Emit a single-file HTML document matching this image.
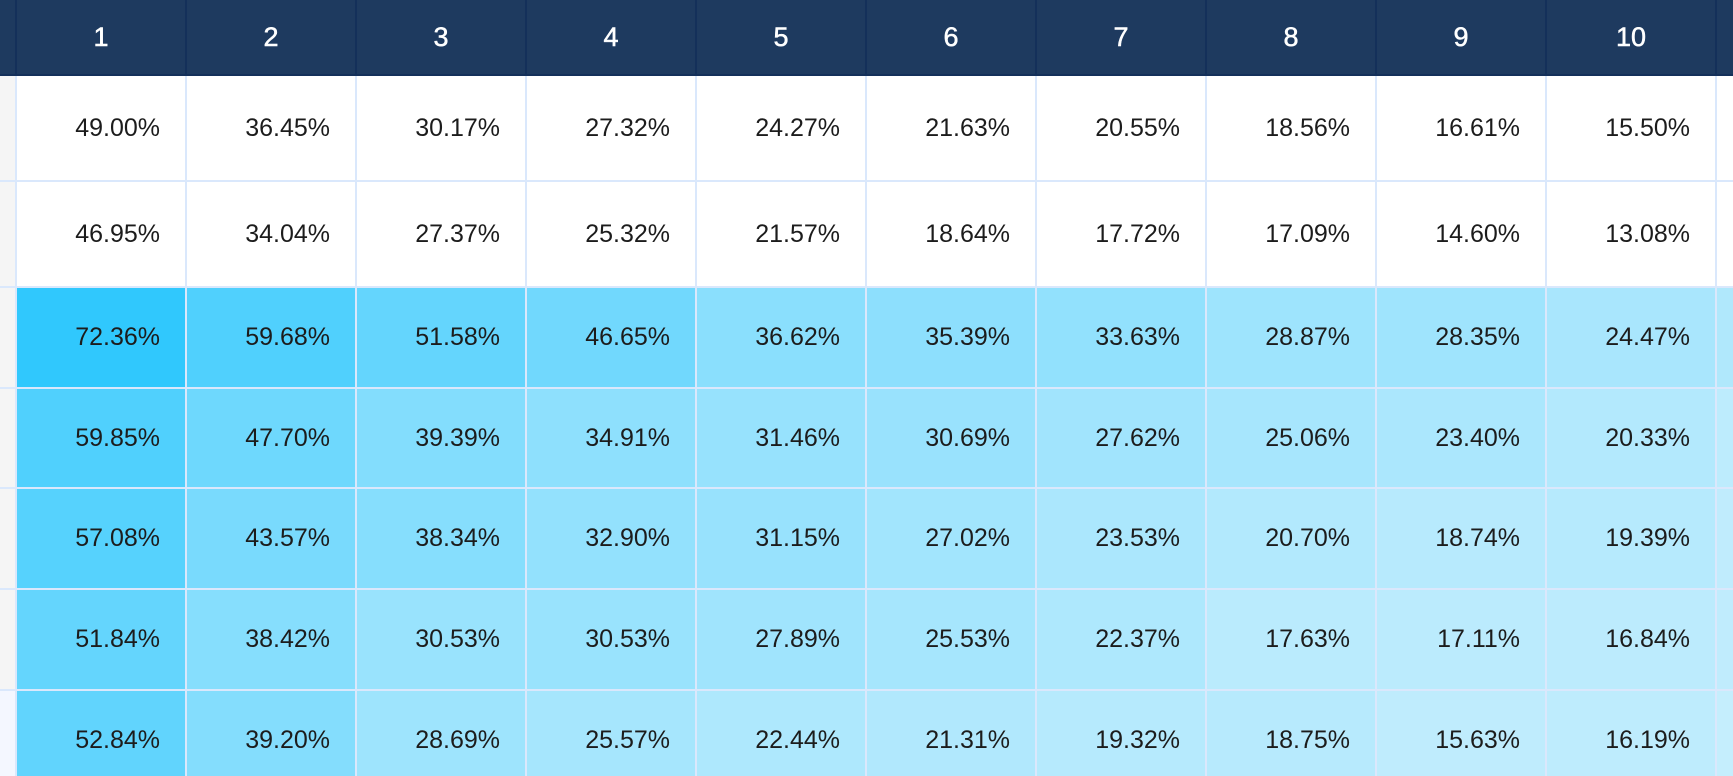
<!DOCTYPE html>
<html><head><meta charset="utf-8"><style>
html,body{margin:0;padding:0;width:1733px;height:776px;overflow:hidden;}
body{position:relative;background:#dae8fc;font-family:"Liberation Sans",Arial,sans-serif;}
.h{position:absolute;top:0;left:0;width:1733px;height:74px;background:#1e3a5f;}
.hb{position:absolute;top:74px;left:0;width:1733px;height:2px;background:#14305a;}
.hs{position:absolute;top:0;width:2px;height:74px;background:#14305a;}
.ht{position:absolute;top:0;height:74px;width:168px;color:#fff;font-size:27px;-webkit-text-stroke:0.5px #fff;display:flex;align-items:center;justify-content:center;}
.c{position:absolute;width:168px;display:flex;align-items:center;justify-content:flex-end;box-sizing:border-box;padding-right:25px;font-size:25px;color:#1c1c1c;}
.l{position:absolute;left:0;width:15px;background:#f5f5f5;}
.p{position:absolute;left:1717px;width:16px;}
</style></head><body>
<div class="h"></div>
<div class="hb"></div>
<div class="hs" style="left:15px"></div><div class="hs" style="left:185px"></div><div class="hs" style="left:355px"></div><div class="hs" style="left:525px"></div><div class="hs" style="left:695px"></div><div class="hs" style="left:865px"></div><div class="hs" style="left:1035px"></div><div class="hs" style="left:1205px"></div><div class="hs" style="left:1375px"></div><div class="hs" style="left:1545px"></div><div class="hs" style="left:1715px"></div>
<div class="ht" style="left:17px">1</div><div class="ht" style="left:187px">2</div><div class="ht" style="left:357px">3</div><div class="ht" style="left:527px">4</div><div class="ht" style="left:697px">5</div><div class="ht" style="left:867px">6</div><div class="ht" style="left:1037px">7</div><div class="ht" style="left:1207px">8</div><div class="ht" style="left:1377px">9</div><div class="ht" style="left:1547px">10</div>

<!-- left strip -->
<div class="l" style="top:76px;height:104px"></div>
<div class="l" style="top:182px;height:104px"></div>
<div class="l" style="top:288px;height:99px"></div>
<div class="l" style="top:389px;height:98px"></div>
<div class="l" style="top:489px;height:99px"></div>
<div class="l" style="top:590px;height:99px"></div>
<div class="l" style="top:691px;height:85px;background:#f4f7ff"></div>

<!-- row 1 -->
<div class="c" style="top:76px;height:104px;left:17px;background:#fff">49.00%</div>
<div class="c" style="top:76px;height:104px;left:187px;background:#fff">36.45%</div>
<div class="c" style="top:76px;height:104px;left:357px;background:#fff">30.17%</div>
<div class="c" style="top:76px;height:104px;left:527px;background:#fff">27.32%</div>
<div class="c" style="top:76px;height:104px;left:697px;background:#fff">24.27%</div>
<div class="c" style="top:76px;height:104px;left:867px;background:#fff">21.63%</div>
<div class="c" style="top:76px;height:104px;left:1037px;background:#fff">20.55%</div>
<div class="c" style="top:76px;height:104px;left:1207px;background:#fff">18.56%</div>
<div class="c" style="top:76px;height:104px;left:1377px;background:#fff">16.61%</div>
<div class="c" style="top:76px;height:104px;left:1547px;background:#fff">15.50%</div>
<div class="p" style="top:76px;height:104px;background:#fff"></div>

<!-- row 2 -->
<div class="c" style="top:182px;height:104px;left:17px;background:#fff">46.95%</div>
<div class="c" style="top:182px;height:104px;left:187px;background:#fff">34.04%</div>
<div class="c" style="top:182px;height:104px;left:357px;background:#fff">27.37%</div>
<div class="c" style="top:182px;height:104px;left:527px;background:#fff">25.32%</div>
<div class="c" style="top:182px;height:104px;left:697px;background:#fff">21.57%</div>
<div class="c" style="top:182px;height:104px;left:867px;background:#fff">18.64%</div>
<div class="c" style="top:182px;height:104px;left:1037px;background:#fff">17.72%</div>
<div class="c" style="top:182px;height:104px;left:1207px;background:#fff">17.09%</div>
<div class="c" style="top:182px;height:104px;left:1377px;background:#fff">14.60%</div>
<div class="c" style="top:182px;height:104px;left:1547px;background:#fff">13.08%</div>
<div class="p" style="top:182px;height:104px;background:#fff"></div>

<!-- row 3 -->
<div class="c" style="top:288px;height:99px;left:17px;background:rgb(48,200,253)">72.36%</div>
<div class="c" style="top:288px;height:99px;left:187px;background:rgb(80,208,253)">59.68%</div>
<div class="c" style="top:288px;height:99px;left:357px;background:rgb(100,213,253)">51.58%</div>
<div class="c" style="top:288px;height:99px;left:527px;background:rgb(113,216,253)">46.65%</div>
<div class="c" style="top:288px;height:99px;left:697px;background:rgb(138,223,253)">36.62%</div>
<div class="c" style="top:288px;height:99px;left:867px;background:rgb(141,223,253)">35.39%</div>
<div class="c" style="top:288px;height:99px;left:1037px;background:rgb(146,225,253)">33.63%</div>
<div class="c" style="top:288px;height:99px;left:1207px;background:rgb(158,228,253)">28.87%</div>
<div class="c" style="top:288px;height:99px;left:1377px;background:rgb(159,228,253)">28.35%</div>
<div class="c" style="top:288px;height:99px;left:1547px;background:rgb(169,230,253)">24.47%</div>
<div class="p" style="top:288px;height:99px;background:#b0e8fc"></div>

<!-- row 4 -->
<div class="c" style="top:389px;height:98px;left:17px;background:rgb(80,208,253)">59.85%</div>
<div class="c" style="top:389px;height:98px;left:187px;background:rgb(110,216,253)">47.70%</div>
<div class="c" style="top:389px;height:98px;left:357px;background:rgb(131,221,253)">39.39%</div>
<div class="c" style="top:389px;height:98px;left:527px;background:rgb(142,224,253)">34.91%</div>
<div class="c" style="top:389px;height:98px;left:697px;background:rgb(151,226,253)">31.46%</div>
<div class="c" style="top:389px;height:98px;left:867px;background:rgb(153,226,253)">30.69%</div>
<div class="c" style="top:389px;height:98px;left:1037px;background:rgb(161,228,253)">27.62%</div>
<div class="c" style="top:389px;height:98px;left:1207px;background:rgb(167,230,253)">25.06%</div>
<div class="c" style="top:389px;height:98px;left:1377px;background:rgb(171,231,253)">23.40%</div>
<div class="c" style="top:389px;height:98px;left:1547px;background:rgb(179,233,253)">20.33%</div>
<div class="p" style="top:389px;height:98px;background:#bdecfd"></div>

<!-- row 5 -->
<div class="c" style="top:489px;height:99px;left:17px;background:rgb(86,210,253)">57.08%</div>
<div class="c" style="top:489px;height:99px;left:187px;background:rgb(121,218,253)">43.57%</div>
<div class="c" style="top:489px;height:99px;left:357px;background:rgb(134,222,253)">38.34%</div>
<div class="c" style="top:489px;height:99px;left:527px;background:rgb(147,225,253)">32.90%</div>
<div class="c" style="top:489px;height:99px;left:697px;background:rgb(152,226,253)">31.15%</div>
<div class="c" style="top:489px;height:99px;left:867px;background:rgb(162,229,253)">27.02%</div>
<div class="c" style="top:489px;height:99px;left:1037px;background:rgb(171,231,253)">23.53%</div>
<div class="c" style="top:489px;height:99px;left:1207px;background:rgb(178,233,253)">20.70%</div>
<div class="c" style="top:489px;height:99px;left:1377px;background:rgb(183,234,253)">18.74%</div>
<div class="c" style="top:489px;height:99px;left:1547px;background:rgb(182,234,253)">19.39%</div>
<div class="p" style="top:489px;height:99px;background:#c0ecfd"></div>

<!-- row 6 -->
<div class="c" style="top:590px;height:99px;left:17px;background:rgb(100,213,253)">51.84%</div>
<div class="c" style="top:590px;height:99px;left:187px;background:rgb(134,222,253)">38.42%</div>
<div class="c" style="top:590px;height:99px;left:357px;background:rgb(153,227,253)">30.53%</div>
<div class="c" style="top:590px;height:99px;left:527px;background:rgb(153,227,253)">30.53%</div>
<div class="c" style="top:590px;height:99px;left:697px;background:rgb(160,228,253)">27.89%</div>
<div class="c" style="top:590px;height:99px;left:867px;background:rgb(166,230,253)">25.53%</div>
<div class="c" style="top:590px;height:99px;left:1037px;background:rgb(174,232,253)">22.37%</div>
<div class="c" style="top:590px;height:99px;left:1207px;background:rgb(186,235,253)">17.63%</div>
<div class="c" style="top:590px;height:99px;left:1377px;background:rgb(187,235,253)">17.11%</div>
<div class="c" style="top:590px;height:99px;left:1547px;background:rgb(188,235,253)">16.84%</div>
<div class="p" style="top:590px;height:99px;background:#c0ecfd"></div>

<!-- row 7 -->
<div class="c" style="top:691px;height:85px;padding-top:14px;left:17px;background:rgb(97,212,253)">52.84%</div>
<div class="c" style="top:691px;height:85px;padding-top:14px;left:187px;background:rgb(132,221,253)">39.20%</div>
<div class="c" style="top:691px;height:85px;padding-top:14px;left:357px;background:rgb(158,228,253)">28.69%</div>
<div class="c" style="top:691px;height:85px;padding-top:14px;left:527px;background:rgb(166,230,253)">25.57%</div>
<div class="c" style="top:691px;height:85px;padding-top:14px;left:697px;background:rgb(174,232,253)">22.44%</div>
<div class="c" style="top:691px;height:85px;padding-top:14px;left:867px;background:rgb(177,232,253)">21.31%</div>
<div class="c" style="top:691px;height:85px;padding-top:14px;left:1037px;background:rgb(182,234,253)">19.32%</div>
<div class="c" style="top:691px;height:85px;padding-top:14px;left:1207px;background:rgb(183,234,253)">18.75%</div>
<div class="c" style="top:691px;height:85px;padding-top:14px;left:1377px;background:rgb(191,236,253)">15.63%</div>
<div class="c" style="top:691px;height:85px;padding-top:14px;left:1547px;background:rgb(190,236,253)">16.19%</div>
<div class="p" style="top:691px;height:85px;background:#c5eefd"></div>
</body></html>
